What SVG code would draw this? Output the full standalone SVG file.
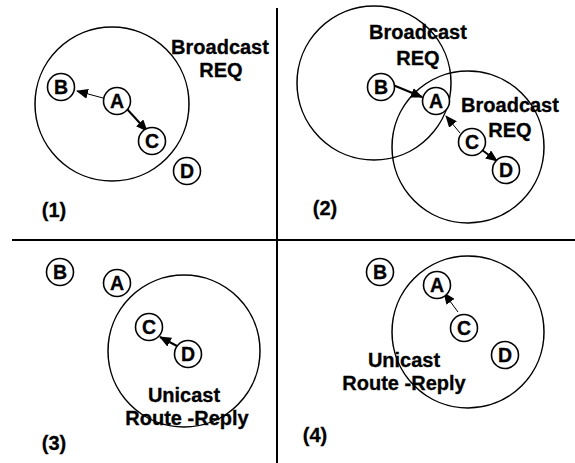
<svg xmlns="http://www.w3.org/2000/svg" width="575" height="463" viewBox="0 0 575 463">
<style>
.rng{fill:none;stroke:#000;stroke-width:1.5}
.nd circle{fill:#fff;stroke:#000;stroke-width:1.6}
.nd text,.lbl{font-family:"Liberation Sans",Arial,sans-serif;font-weight:bold;fill:#000;stroke:#000;stroke-width:0.3;text-anchor:middle}
.nd text{font-size:19.5px}
.lbl{font-size:20px}
.thin{stroke:#000;stroke-width:1;fill:none;marker-end:url(#ah)}
.thick{stroke:#000;stroke-width:2;fill:none;marker-end:url(#ah)}
.div{stroke:#000;stroke-width:2}
</style>
<defs>
<marker id="ah" markerUnits="userSpaceOnUse" markerWidth="12" markerHeight="10" refX="11" refY="5" orient="auto" viewBox="0 0 12 10">
<path d="M0,0 L12,5 L0,10 z" fill="#000"/>
</marker>
</defs>
<rect width="575" height="463" fill="#fff"/>
<g id="dividers">
<line class="div" x1="277" y1="8" x2="277" y2="463"/>
<line class="div" x1="12" y1="240" x2="575" y2="240"/>
</g>
<g id="ranges">
<circle class="rng" cx="112" cy="104" r="77"/>
<circle class="rng" cx="374" cy="83" r="77"/>
<circle class="rng" cx="468" cy="147" r="76"/>
<circle class="rng" cx="184" cy="351" r="76"/>
<circle class="rng" cx="468" cy="332" r="76"/>
</g>
<g id="connectors">
<line class="thin" x1="103" y1="98" x2="77" y2="91"/>
<line class="thick" x1="127" y1="109" x2="147" y2="131"/>
<line class="thick" x1="393" y1="85" x2="422" y2="97"/>
<line class="thin" x1="460" y1="133" x2="446" y2="116"/>
<line class="thick" x1="482" y1="150" x2="497" y2="161"/>
<line class="thick" x1="177" y1="346" x2="160" y2="337"/>
<line class="thin" x1="458" y1="312" x2="444" y2="293"/>
</g>
<g id="p1-B" class="nd"><circle cx="61" cy="87" r="13.5"/><text x="61" y="94">B</text></g>
<g id="p1-A" class="nd"><circle cx="117" cy="101" r="13.5"/><text x="117" y="108">A</text></g>
<g id="p1-C" class="nd"><circle cx="152" cy="141" r="13.5"/><text x="152" y="148">C</text></g>
<g id="p1-D" class="nd"><circle cx="187" cy="171" r="13.5"/><text x="187" y="178">D</text></g>
<g id="p2-B" class="nd"><circle cx="381" cy="87" r="13.5"/><text x="381" y="94">B</text></g>
<g id="p2-A" class="nd"><circle cx="436" cy="101" r="13.5"/><text x="436" y="108">A</text></g>
<g id="p2-C" class="nd"><circle cx="472" cy="142" r="13.5"/><text x="472" y="149">C</text></g>
<g id="p2-D" class="nd"><circle cx="506" cy="170" r="13.5"/><text x="506" y="177">D</text></g>
<g id="p3-B" class="nd"><circle cx="60" cy="272" r="13.5"/><text x="60" y="279">B</text></g>
<g id="p3-A" class="nd"><circle cx="117" cy="283" r="13.5"/><text x="117" y="290">A</text></g>
<g id="p3-C" class="nd"><circle cx="149" cy="327" r="13.5"/><text x="149" y="334">C</text></g>
<g id="p3-D" class="nd"><circle cx="188" cy="354" r="13.5"/><text x="188" y="361">D</text></g>
<g id="p4-B" class="nd"><circle cx="380" cy="272" r="13.5"/><text x="380" y="279">B</text></g>
<g id="p4-A" class="nd"><circle cx="437" cy="285" r="13.5"/><text x="437" y="292">A</text></g>
<g id="p4-C" class="nd"><circle cx="464" cy="328" r="13.5"/><text x="464" y="335">C</text></g>
<g id="p4-D" class="nd"><circle cx="505" cy="355" r="13.5"/><text x="505" y="362">D</text></g>
<g id="labels">
<text class="lbl" x="220" y="54">Broadcast</text>
<text class="lbl" x="221" y="77">REQ</text>
<text class="lbl" x="418" y="39">Broadcast</text>
<text class="lbl" x="418" y="65">REQ</text>
<text class="lbl" x="510" y="112">Broadcast</text>
<text class="lbl" x="510" y="137">REQ</text>
<text class="lbl" x="184" y="402">Unicast</text>
<text class="lbl" x="187" y="425">Route -Reply</text>
<text class="lbl" x="404" y="367">Unicast</text>
<text class="lbl" x="404" y="390">Route -Reply</text>
<text class="lbl" x="54" y="217">(1)</text>
<text class="lbl" x="325" y="215">(2)</text>
<text class="lbl" x="54" y="450">(3)</text>
<text class="lbl" x="315" y="442">(4)</text>
</g>
</svg>
